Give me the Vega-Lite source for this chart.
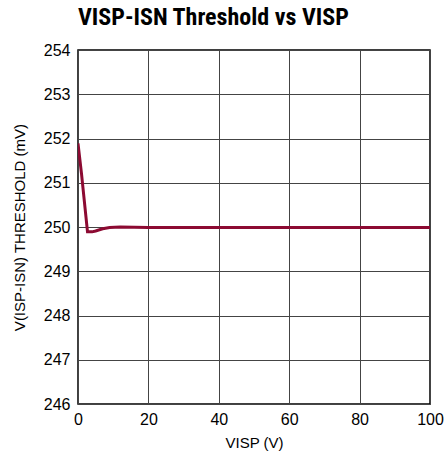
{
  "$schema": "https://vega.github.io/schema/vega-lite/v6.json",
  "autosize": {"type": "none"},
  "padding": {"left": 78, "top": 50, "right": 15, "bottom": 60},
  "width": 352,
  "height": 354,
  "background": "white",
  "title": {
    "text": "VISP-ISN Threshold vs VISP",
    "anchor": "start",
    "frame": "group",
    "font": "Roboto Condensed, Liberation Sans Narrow, Roboto, sans-serif",
    "fontSize": 24,
    "fontWeight": "bold",
    "color": "black",
    "offset": 12
  },
  "data": {
    "values": [
      {"v": 0, "t": 251.89},
      {"v": 1, "t": 251.2},
      {"v": 2.7, "t": 249.89},
      {"v": 4, "t": 249.89},
      {"v": 5, "t": 249.91},
      {"v": 7, "t": 249.96},
      {"v": 9, "t": 249.99},
      {"v": 12, "t": 250.0},
      {"v": 20, "t": 249.99},
      {"v": 40, "t": 249.99},
      {"v": 60, "t": 249.99},
      {"v": 80, "t": 249.99},
      {"v": 100, "t": 249.99}
    ]
  },
  "config": {
    "view": {"stroke": "black", "strokeWidth": 1.5},
    "axis": {
      "labelFont": "Liberation Sans, sans-serif",
      "titleFont": "Liberation Sans, sans-serif",
      "labelFontSize": 16,
      "titleFontSize": 15,
      "labelColor": "black",
      "titleColor": "black",
      "titleFontWeight": "normal",
      "gridColor": "#444",
      "gridWidth": 1,
      "gridOpacity": 1,
      "ticks": false,
      "domain": false,
      "labelFlush": false,
      "labelOverlap": false
    }
  },
  "mark": {"type": "line", "color": "#8c0a32", "strokeWidth": 3, "clip": true},
  "encoding": {
    "x": {
      "field": "v",
      "type": "quantitative",
      "scale": {"domain": [0, 100], "nice": false},
      "axis": {"values": [0, 20, 40, 60, 80, 100], "labelPadding": 7, "title": "VISP (V)", "titlePadding": 8}
    },
    "y": {
      "field": "t",
      "type": "quantitative",
      "scale": {"domain": [246, 254], "nice": false, "zero": false},
      "axis": {"values": [246, 247, 248, 249, 250, 251, 252, 253, 254], "labelPadding": 8, "title": "V(ISP-ISN) THRESHOLD (mV)", "titlePadding": 16}
    }
  }
}
